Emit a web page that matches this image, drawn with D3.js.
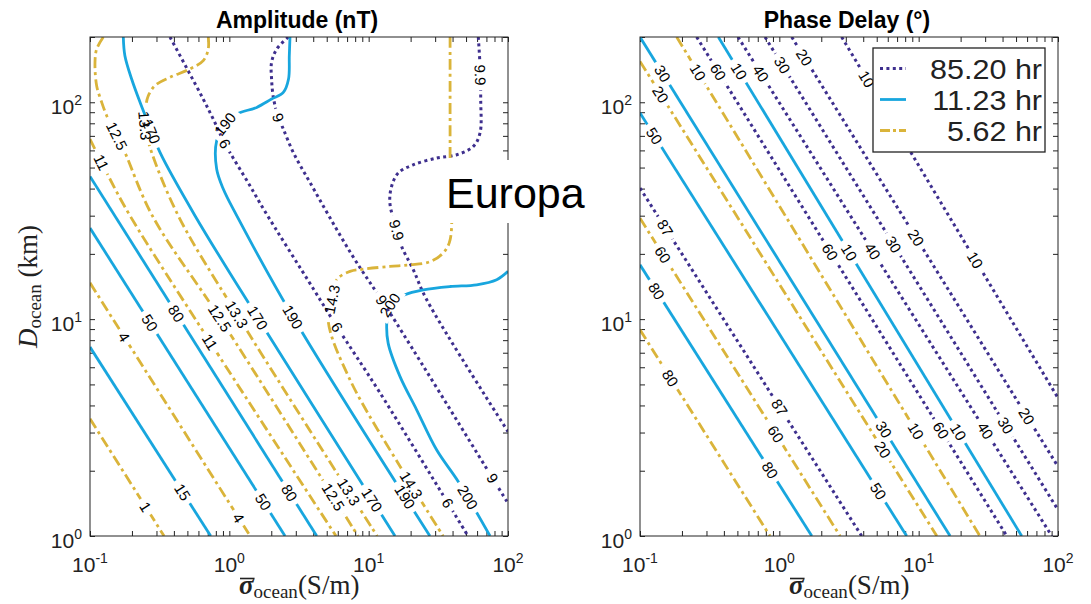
<!DOCTYPE html>
<html><head><meta charset="utf-8">
<script src="https://cdn.jsdelivr.net/npm/d3@7"></script>
<style>body{margin:0;background:#fff}svg{display:block}</style>
</head><body>
<svg id="c" width="1091" height="604"></svg>
<script>
// ---------------- data ----------------
const sigmaDomain = [0.1, 100];
const depthDomain = [1, 200];
const xTickValues = [0.1, 1, 10, 100];
const xTickExp = ["-1", "0", "1", "2"];
const yTickValues = [1, 10, 100];
const yTickExp = ["0", "1", "2"];
const periodNames = ["85.20 hr", "11.23 hr", "5.62 hr"];
const panelTitles = ["Amplitude (nT)", "Phase Delay (\u00B0)"];
const insetLabel = "Europa";

// Amplitude, 85.20 hr
const amp85 = [
  {level:"6", pts:[[0.375,200],[0.497,142.9],[0.647,103.9],[0.764,84],[0.931,64.4],[1.407,41.2],[1.774,31.9],[4.05,13.65],[5.93,9.21],[12.06,4.57],[51.6,1]],
   labels:[[0.931,64.4],[5.93,9.21],[37.7,1.42]]},
  {level:"9", pts:[[2.65,200],[2.19,176],[2.01,152.8],[2.01,128],[2.07,105.3],[2.246,85.2],[2.44,75.3],[2.877,58.7],[3.79,42.7],[7.5,20],[14.2,10.7],[100,1.415]],
   labels:[[2.246,85.2],[11.5,11.9],[74.3,1.81]]},
  {level:"9.9", pts:[[61.2,200],[63,146.5],[63.7,102.8],[63,72.2],[56.4,62.6],[42.9,57.3],[30.8,55.3],[20.9,51.5],[16.3,47.2],[14.6,40.9],[14.2,34.3],[15.9,25.8],[17.26,21.6],[20.9,16.9],[26.1,12.28],[100,3.03]],
   labels:[[62.5,134],[15.9,25.8]]}
];
// Amplitude, 11.23 hr
const amp11 = [
  {level:"15", pts:[[0.1,7.43],[0.735,1]], labels:[[0.443,1.57]]},
  {level:"50", pts:[[0.1,26.3],[2.51,1]], labels:[[0.262,9.58],[1.754,1.44]]},
  {level:"80", pts:[[0.1,45.5],[4.24,1]], labels:[[0.407,10.47],[2.65,1.57]]},
  {level:"170", pts:[[0.1734,200],[0.178,164],[0.199,128],[0.2286,100],[0.277,73.2],[0.318,58.7],[0.567,30],[1.606,10.1],[15.45,1]],
   labels:[[0.277,73.2],[1.606,10.1],[10.57,1.47]]},
  {level:"190", pts:[[2.725,200],[2.694,164],[2.66,128],[2.44,111],[2.01,103.5],[1.572,94.7],[1.13,88.3],[0.931,79.4],[0.811,66.5],[0.811,49.2],[0.905,39.8],[1.13,30],[2.85,10.28],[27.5,1]],
   labels:[[0.931,79.4],[2.85,10.28],[18.2,1.51]]},
  {level:"200", pts:[[100,16.6],[83,15.2],[59.6,14.4],[38.4,14.14],[24.7,13.65],[18.2,12.95],[14.2,11.64],[13.5,9.75],[13.8,7.75],[16.8,5.43],[22.1,3.82],[30.8,2.49],[44,1.78],[74.3,1]],
   labels:[[14.2,11.64],[50.8,1.51]]}
];
// Amplitude, 5.62 hr
const amp5 = [
  {level:"1", pts:[[0.1,3.47],[0.34,1]], labels:[[0.248,1.36]]},
  {level:"4", pts:[[0.1,14.7],[1.41,1]], labels:[[0.173,8.2],[1.19,1.22]]},
  {level:"11", pts:[[0.1,67.7],[0.1353,45.8],[0.1936,30],[0.726,7.86],[5.83,1]], labels:[[0.1213,52.8],[0.726,7.86]]},
  {level:"12.5", pts:[[0.1246,200],[0.1117,176],[0.1086,153],[0.1117,119],[0.1213,100],[0.1318,86.7],[0.1556,70.1],[0.178,58.7],[0.28,30],[0.857,10.1],[8.38,1]],
   labels:[[0.1556,70.1],[0.857,10.1],[5.55,1.51]]},
  {level:"13.3", pts:[[0.706,200],[0.706,176],[0.65,155.6],[0.522,142.5],[0.375,130.3],[0.293,119.4],[0.262,107.2],[0.252,96.4],[0.248,78],[0.2695,61.9],[0.43,30],[1.135,10.5],[11.5,1]],
   labels:[[0.248,78],[1.135,10.5],[7.11,1.58]]},
  {level:"14.3", pts:[[38.4,200],[38.4,57.3],[38.4,23.2],[34.3,20.2],[27.5,18.4],[19.8,17.8],[14.2,17.5],[9.15,17.0],[7.35,16.6],[5.9,15.2],[5.43,12.3],[5.13,9.75],[7.35,5.25],[17.7,1.98],[34.2,1]],
   labels:[[5.43,12.3],[19.2,1.68]]}
];
// Phase delay, 85.20 hr
const phase85 = [
  {level:"87", pts:[[0.1,40.2],[3.9,1]], labels:[[0.151,26.4],[1.01,3.94]]},
  {level:"60", pts:[[0.255,200],[42.9,1]], labels:[[0.334,134],[2.06,19.4],[13.8,3.02]]},
  {level:"40", pts:[[0.505,200],[90.2,1]], labels:[[0.703,134],[4.48,20.2],[29,3.02]]},
  {level:"30", pts:[[0.789,200],[100,1.32]], labels:[[0.978,144],[6.22,21.6],[40.3,3.18]]},
  {level:"20", pts:[[1.227,200],[100,2.09]], labels:[[1.41,157],[8.96,23.2],[57,3.5]]},
  {level:"10", pts:[[2.8,200],[100,4.33]], labels:[[3.79,123],[23.3,18.2]]}
];
// Phase delay, 11.23 hr
const phase11 = [
  {level:"30", pts:[[0.1,200],[16.8,1]], labels:[[0.139,134],[5.55,3.08]]},
  {level:"50", pts:[[0.1,89.3],[8.2,1]], labels:[[0.122,69.4],[5.11,1.6]]},
  {level:"80", pts:[[0.1,17.8],[1.71,1]], labels:[[0.128,13.4],[0.857,2.02]]},
  {level:"10", pts:[[0.365,200],[54.9,1]], labels:[[0.465,134],[2.86,19.4],[18.8,2.99]]}
];
// Phase delay, 5.62 hr
const phase5 = [
  {level:"10", pts:[[0.1834,200],[27.5,1]], labels:[[0.24,134],[9.1,2.99]]},
  {level:"20", pts:[[0.1,154.4],[13.5,1]], labels:[[0.1325,106],[5.28,2.44]]},
  {level:"60", pts:[[0.1,29.2],[2.73,1]], labels:[[0.144,19.8],[0.962,2.99]]},
  {level:"80", pts:[[0.1,8.93],[0.857,1]], labels:[[0.159,5.25]]}
];

// ---------------- drawing ----------------
const W = 1091, H = 604;
const svg = d3.select("#c");
const defs = svg.append("defs");
const plotW = 418, plotTop = 37, plotBottom = 536;
const sans = "'Liberation Sans', Arial, Helvetica, sans-serif";
const serif = "'Liberation Serif', 'Times New Roman', serif";
const styles = [
  {color:"#3e2f8e", dash:"3,3.4", width:3},
  {color:"#18a6de", dash:null, width:2.8},
  {color:"#dab43a", dash:"11,4,3,4", width:2.8}
];
const panels = [
  {x0:90, title:panelTitles[0], series:[amp85, amp11, amp5], ylabel:true},
  {x0:640, title:panelTitles[1], series:[phase85, phase11, phase5], ylabel:false}
];

const minorX = [];
for (let e = -1; e < 2; e++) for (let m = 1; m < 10; m++) minorX.push(m * Math.pow(10, e));
minorX.push(100);
const minorY = [];
for (let e = 0; e < 3; e++) for (let m = 1; m < 10; m++) { const v = m * Math.pow(10, e); if (v <= 200) minorY.push(v); }

let uid = 0;
panels.forEach((p, pi) => {
  const x = d3.scaleLog().domain(sigmaDomain).range([p.x0, p.x0 + plotW]);
  const y = d3.scaleLog().domain(depthDomain).range([plotBottom, plotTop]);
  const g = svg.append("g");

  // ticks (inward)
  const axB = d3.axisBottom(x).tickValues(minorX).tickSize(-5).tickFormat("");
  const axT = d3.axisTop(x).tickValues(minorX).tickSize(-5).tickFormat("");
  const axL = d3.axisLeft(y).tickValues(minorY).tickSize(-5).tickFormat("");
  const axR = d3.axisRight(y).tickValues(minorY).tickSize(-5).tickFormat("");
  [[axB, `translate(0,${plotBottom})`], [axT, `translate(0,${plotTop})`], [axL, `translate(${p.x0},0)`], [axR, `translate(${p.x0+plotW},0)`]].forEach(([ax, tr]) => {
    const a = g.append("g").attr("transform", tr).call(ax);
    a.select(".domain").remove();
    a.selectAll("line").attr("stroke", "#222").attr("stroke-width", 1);
  });

  // contours
  const clipId = "clip" + pi;
  defs.append("clipPath").attr("id", clipId).append("rect")
    .attr("x", p.x0).attr("y", plotTop).attr("width", plotW).attr("height", plotBottom - plotTop);
  const cg = g.append("g").attr("clip-path", `url(#${clipId})`);
  const lg = g.append("g");
  const line = d3.line().x(d => x(d[0])).y(d => y(d[1])).curve(d3.curveCatmullRom.alpha(0.5));

  p.series.forEach((ser, si) => {
    const st = styles[si];
    ser.forEach(c => {
      const path = cg.append("path").attr("d", line(c.pts)).attr("fill", "none")
        .attr("stroke", st.color).attr("stroke-width", st.width);
      if (st.dash) path.attr("stroke-dasharray", st.dash);
      const node = path.node();
      const L = node.getTotalLength();
      const samples = [];
      for (let l = 0; l <= L; l += 1) { const pt = node.getPointAtLength(l); samples.push([l, pt.x, pt.y]); }
      const placed = [];
      c.labels.forEach(lb => {
        const px = x(lb[0]), py = y(lb[1]);
        let best = 0, bd = Infinity;
        samples.forEach(s => { const d = (s[1]-px)**2 + (s[2]-py)**2; if (d < bd) { bd = d; best = s[0]; } });
        const pt = node.getPointAtLength(best);
        const a = node.getPointAtLength(Math.max(0, best - 5)), b = node.getPointAtLength(Math.min(L, best + 5));
        let ang = Math.atan2(b.y - a.y, b.x - a.x) * 180 / Math.PI;
        if (ang > 90) ang -= 180;
        if (ang <= -90) ang += 180;
        const t = lg.append("text").attr("transform", `translate(${pt.x},${pt.y}) rotate(${ang})`)
          .attr("text-anchor", "middle").attr("dominant-baseline", "central")
          .attr("font-family", sans).attr("font-size", 15).attr("fill", "#000").text(c.level);
        placed.push({x: pt.x, y: pt.y, ang, w: t.node().getComputedTextLength()});
      });
      const mid = "m" + (uid++);
      const m = defs.append("mask").attr("id", mid).attr("maskUnits", "userSpaceOnUse")
        .attr("x", 0).attr("y", 0).attr("width", W).attr("height", H);
      m.append("rect").attr("width", W).attr("height", H).attr("fill", "white");
      placed.forEach(pl => m.append("rect").attr("x", -(pl.w/2 + 5)).attr("y", -8).attr("width", pl.w + 10).attr("height", 16)
        .attr("fill", "black").attr("transform", `translate(${pl.x},${pl.y}) rotate(${pl.ang})`));
      path.attr("mask", `url(#${mid})`);
    });
  });

  // frame
  g.append("rect").attr("x", p.x0).attr("y", plotTop).attr("width", plotW).attr("height", plotBottom - plotTop)
    .attr("fill", "none").attr("stroke", "#222").attr("stroke-width", 1);

  // tick labels
  xTickValues.forEach((v, i) => {
    const t = g.append("text").attr("x", x(v)).attr("y", 572).attr("text-anchor", "middle")
      .attr("font-family", sans).attr("font-size", 21).attr("fill", "#222");
    t.append("tspan").text("10");
    t.append("tspan").attr("font-size", 14).attr("dy", -9).text(xTickExp[i]);
  });
  yTickValues.forEach((v, i) => {
    const t = g.append("text").attr("x", p.x0 - 8).attr("y", y(v) + 12).attr("text-anchor", "end")
      .attr("font-family", sans).attr("font-size", 21).attr("fill", "#222");
    t.append("tspan").text("10");
    t.append("tspan").attr("font-size", 14).attr("dy", -9).text(yTickExp[i]);
  });

  // title
  g.append("text").attr("x", p.x0 + plotW/2 - 2).attr("y", 28).attr("text-anchor", "middle")
    .attr("font-family", sans).attr("font-weight", "bold").attr("font-size", 23).text(p.title);

  // x label
  const xl = g.append("text").attr("x", p.x0 + 149).attr("y", 594)
    .attr("font-family", serif).attr("font-size", 27).attr("fill", "#222");
  xl.append("tspan").attr("font-style", "italic").attr("font-weight", "bold").text("\u03C3");
  xl.append("tspan").attr("font-size", 19).attr("dy", 4).text("ocean");
  xl.append("tspan").attr("dy", -4).text("(S/m)");
  const ext = xl.node().getExtentOfChar(0);
  g.append("line").attr("x1", ext.x + 1).attr("x2", ext.x + ext.width + 1).attr("y1", 578.5).attr("y2", 578.5)
    .attr("stroke", "#222").attr("stroke-width", 1.6);

  if (p.ylabel) {
    const yl = g.append("text").attr("transform", `translate(37,${(plotTop+plotBottom)/2}) rotate(-90)`)
      .attr("text-anchor", "middle").attr("font-family", serif).attr("font-size", 27).attr("fill", "#222");
    yl.append("tspan").attr("font-style", "italic").text("D");
    yl.append("tspan").attr("font-size", 19).attr("dy", 4).text("ocean");
    yl.append("tspan").attr("dy", -4).text("\u00A0(km)");
  }
});

// legend (right panel)
const leg = svg.append("g");
leg.append("rect").attr("x", 873).attr("y", 48).attr("width", 172).attr("height", 104)
  .attr("fill", "#fff").attr("stroke", "#222").attr("stroke-width", 1.3);
periodNames.forEach((name, i) => {
  const yy = 68.5 + i * 31;
  const st = styles[i];
  const ln = leg.append("line").attr("x1", 880).attr("x2", 906).attr("y1", yy).attr("y2", yy)
    .attr("stroke", st.color).attr("stroke-width", st.width);
  if (st.dash) ln.attr("stroke-dasharray", i === 0 ? "3,3.4" : "10,3,3,3");
  leg.append("text").attr("transform", `translate(1042,${yy + 10}) scale(1.13,1)`).attr("text-anchor", "end")
    .attr("font-family", sans).attr("font-size", 27).attr("fill", "#222").text(name);
});

// Europa inset label
svg.append("rect").attr("x", 441).attr("y", 160).attr("width", 148).attr("height", 63).attr("fill", "#fff");
svg.append("text").attr("x", 446).attr("y", 208).attr("font-family", sans).attr("font-size", 43)
  .attr("fill", "#000").text(insetLabel);
</script>
</body></html>
